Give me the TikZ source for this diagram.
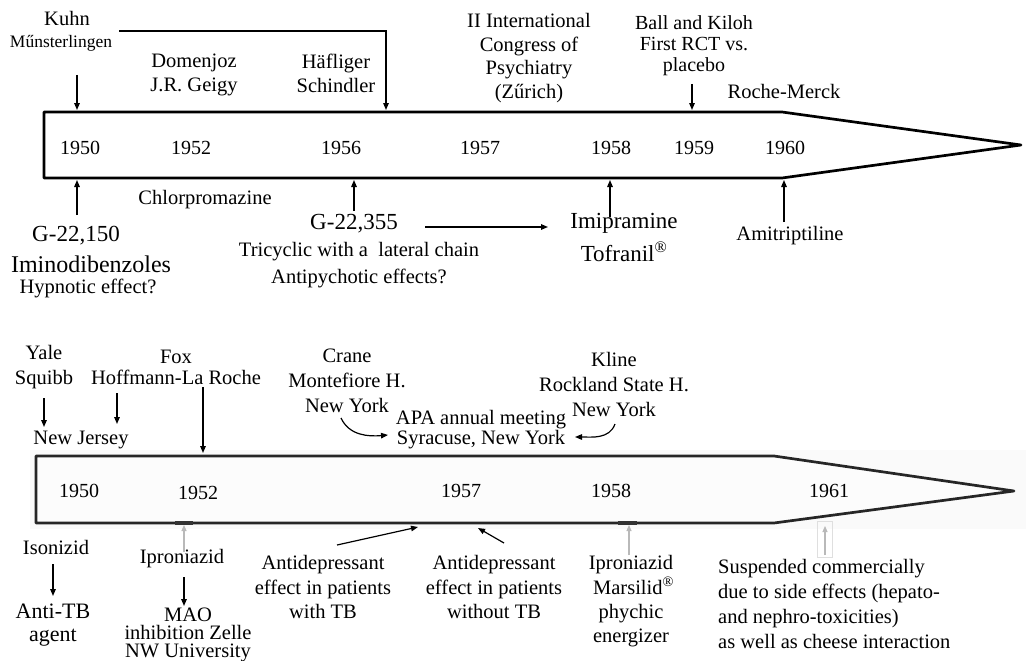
\documentclass[tikz,border=0pt]{standalone}
\usepackage{fontspec}
\setmainfont{Liberation Serif}
\usetikzlibrary{arrows.meta}
\begin{document}
\begin{tikzpicture}[x=1pt,y=-1pt,
  lbl/.style={inner sep=0pt, align=center, font=\fontsize{20.5}{24}\selectfont},
  yr/.style={inner sep=0pt, font=\fontsize{20}{24}\selectfont},
  arr/.style={-{Triangle[length=7pt,width=5.5pt]}, line width=1.4pt},
  garr/.style={arr, draw=gray!55, line width=1.2pt, -{Triangle[length=6pt,width=5pt]}},
  tline/.style={line width=2.7pt, line join=round}
]
\useasboundingbox (0,0) rectangle (1026,661);
\clip (0,0) rectangle (1026,661);
\fill[white] (0,0) rectangle (1026,661);

% ================= TOP TIMELINE =================
\draw[tline, fill=white] (44,112) -- (782,112) -- (1021,145) -- (782,178) -- (44,178) -- cycle;
\foreach \yy/\xx in {1950/80,1952/191,1956/341,1957/480,1958/611,1959/694,1960/785}
  \node[yr] (top\yy) at (\xx,148) {\yy};

% labels above
\node[lbl] (kuhn) at (67,18) {Kuhn};
\node[lbl, font=\fontsize{17.5}{20}\selectfont] (munster) at (61,43) {Műnsterlingen};
\node[lbl] (domenjoz) at (194,75) {Domenjoz\\J.R. Geigy};
\node[lbl] (hafliger) at (336,73) {Häfliger\\Schindler};
\node[lbl, font=\fontsize{20.5}{23.5}\selectfont] (congress) at (529,58) {II International\\Congress of\\Psychiatry\\(Zűrich)};
\node[lbl, font=\fontsize{20}{21}\selectfont] (ball) at (694,46) {Ball and Kiloh\\First RCT vs.\\placebo};
\node[lbl] (roche) at (784,91) {Roche-Merck};

% labels below
\node[lbl] (chlor) at (205,200) {Chlorpromazine};
\node[lbl, font=\fontsize{23}{26}\selectfont] (g150) at (76,236) {G-22,150};
\node[lbl, font=\fontsize{24}{27}\selectfont] (imino) at (91,264) {Iminodibenzoles};
\node[lbl] (hypno) at (88,288) {Hypnotic effect?};
\node[lbl, font=\fontsize{23}{26}\selectfont] (g355) at (354,224) {G-22,355};
\node[lbl] (tricyc) at (359,252) {Tricyclic with a\ \ lateral chain};
\node[lbl] (antipsy) at (359,278) {Antipychotic effects?};
\node[lbl, font=\fontsize{23}{26}\selectfont] (imip) at (624,223) {Imipramine};
\node[lbl, font=\fontsize{23}{26}\selectfont] (tofr) at (624,252) {Tofranil\textsuperscript{®}};
\node[lbl] (amitr) at (790,236) {Amitriptiline};

% connector coordinates
\coordinate (t1) at (77,110);
\coordinate (t2) at (386,110);
\coordinate (t3) at (692,110);
\coordinate (b1) at (77,180);
\coordinate (b2) at (354,180);
\coordinate (b3) at (610,180);
\coordinate (b4) at (784,180);
\coordinate (k0) at (77,75);
\coordinate (h0) at (119,31);
\coordinate (ba0) at (692,84);
\coordinate (g0) at (77,215);
\coordinate (s0) at (354,211);
\coordinate (hs) at (425,227);
\coordinate (he) at (548,227);
\coordinate (i0) at (610,217);
\coordinate (a0) at (784,222);

\draw[arr] (k0) -- (t1);
\draw[arr] (h0) -| (t2);
\draw[arr] (ba0) -- (t3);
\draw[arr] (g0) -- (b1);
\draw[arr] (s0) -- (b2);
\draw[arr] (hs) -- (he);
\draw[arr] (i0) -- (b3);
\draw[arr] (a0) -- (b4);

% ================= BOTTOM TIMELINE =================
\fill[gray!4] (30,450) rectangle (1026,529);
\draw[tline, draw=black!85, fill=gray!2] (36,456) -- (774,456) -- (1014,491) -- (774,523) -- (36,523) -- cycle;
\node[yr] (bot1950) at (79,491) {1950};
\node[yr] (bot1952) at (198,493) {1952};
\node[yr] (bot1957) at (461,491) {1957};
\node[yr] (bot1958) at (611,491) {1958};
\node[yr] (bot1961) at (829,491) {1961};

% labels above
\node[lbl, font=\fontsize{20.5}{25}\selectfont] (yale) at (44,367.5) {Yale\\Squibb};
\node[lbl] (newjersey) at (81,440) {New Jersey};
\node[lbl, font=\fontsize{20.5}{21}\selectfont] (fox) at (176,367.5) {Fox\\Hoffmann-La Roche};
\node[lbl, font=\fontsize{20.5}{25}\selectfont] (crane) at (347,381) {Crane\\Montefiore H.\\New York};
\node[lbl, font=\fontsize{20.5}{20}\selectfont] (apa) at (481,430) {APA annual meeting\\Syracuse, New York};
\node[lbl, font=\fontsize{20.5}{25}\selectfont] (kline) at (614,384) {Kline\\Rockland State H.\\New York};

% labels below
\node[lbl] (isonizid) at (56,547) {Isonizid};
\node[lbl, font=\fontsize{22}{23}\selectfont] (antitb) at (53,625.5) {Anti-TB\\agent};
\node[lbl] (iproA) at (182,559) {Iproniazid};
\node[lbl, font=\fontsize{20.5}{18}\selectfont] (mao) at (188,635) {MAO\\inhibition Zelle\\NW University};
\node[lbl, font=\fontsize{20.5}{24.5}\selectfont] (withtb) at (323,587) {Antidepressant\\effect in patients\\with TB};
\node[lbl, font=\fontsize{20.5}{24.5}\selectfont] (withouttb) at (494,587) {Antidepressant\\effect in patients\\without TB};
\node[lbl, font=\fontsize{20.5}{24.3}\selectfont] (iproB) at (631,601.5) {Iproniazid\\\ Marsilid\textsuperscript{®}\\phychic\\energizer};
\node[lbl, font=\fontsize{20.5}{24.7}\selectfont, align=left, anchor=west] (susp) at (718,604) {Suspended commercially\\due to side effects (hepato-\\and nephro-toxicities)\\as well as cheese interaction};

% connector coordinates
\coordinate (y0) at (44,398);   \coordinate (y1) at (44,427);
\coordinate (n0) at (117,393);  \coordinate (n1) at (117,424);
\coordinate (f0) at (203,387);  \coordinate (bt2) at (203,453);
\coordinate (c0) at (341,418);  \coordinate (c1) at (388,435);
\coordinate (kl0) at (615,424); \coordinate (kl1) at (575,437);
\coordinate (is0) at (53,564);  \coordinate (is1) at (53,596);
\coordinate (ip0) at (184,577); \coordinate (ip1) at (184,606);
\coordinate (ga0) at (184,552); \coordinate (bb1) at (184,525);
\coordinate (w0) at (337,545);  \coordinate (bb2) at (418,527);
\coordinate (wo0) at (504,543); \coordinate (bb3) at (478,528);
\coordinate (gb0) at (629,555); \coordinate (bb4) at (629,525);
\coordinate (gc0) at (825,555); \coordinate (bb5) at (825,526);

\draw[arr] (y0) -- (y1);
\draw[arr] (n0) -- (n1);
\draw[arr] (f0) -- (bt2);
\draw[arr, line width=1.2pt] (c0) to[out=-65,in=185] (c1);
\draw[arr, line width=1.2pt] (kl0) to[out=-110,in=0] (kl1);
\draw[arr] (is0) -- (is1);
\draw[arr] (ip0) -- (ip1);
\draw[arr, line width=1.2pt] (w0) -- (bb2);
\draw[arr, line width=1.2pt] (wo0) -- (bb3);

% gray marks
\draw[line width=4pt, black!80] (175,523) -- (193,523);
\draw[garr] (ga0) -- (bb1);
\draw[line width=4pt, black!80] (618,523) -- (637,523);
\draw[garr] (gb0) -- (bb4);
\draw[gray!25, line width=0.8pt] (817,521) rectangle (832,557);
\draw[garr] (gc0) -- (bb5);
\end{tikzpicture}
\end{document}
